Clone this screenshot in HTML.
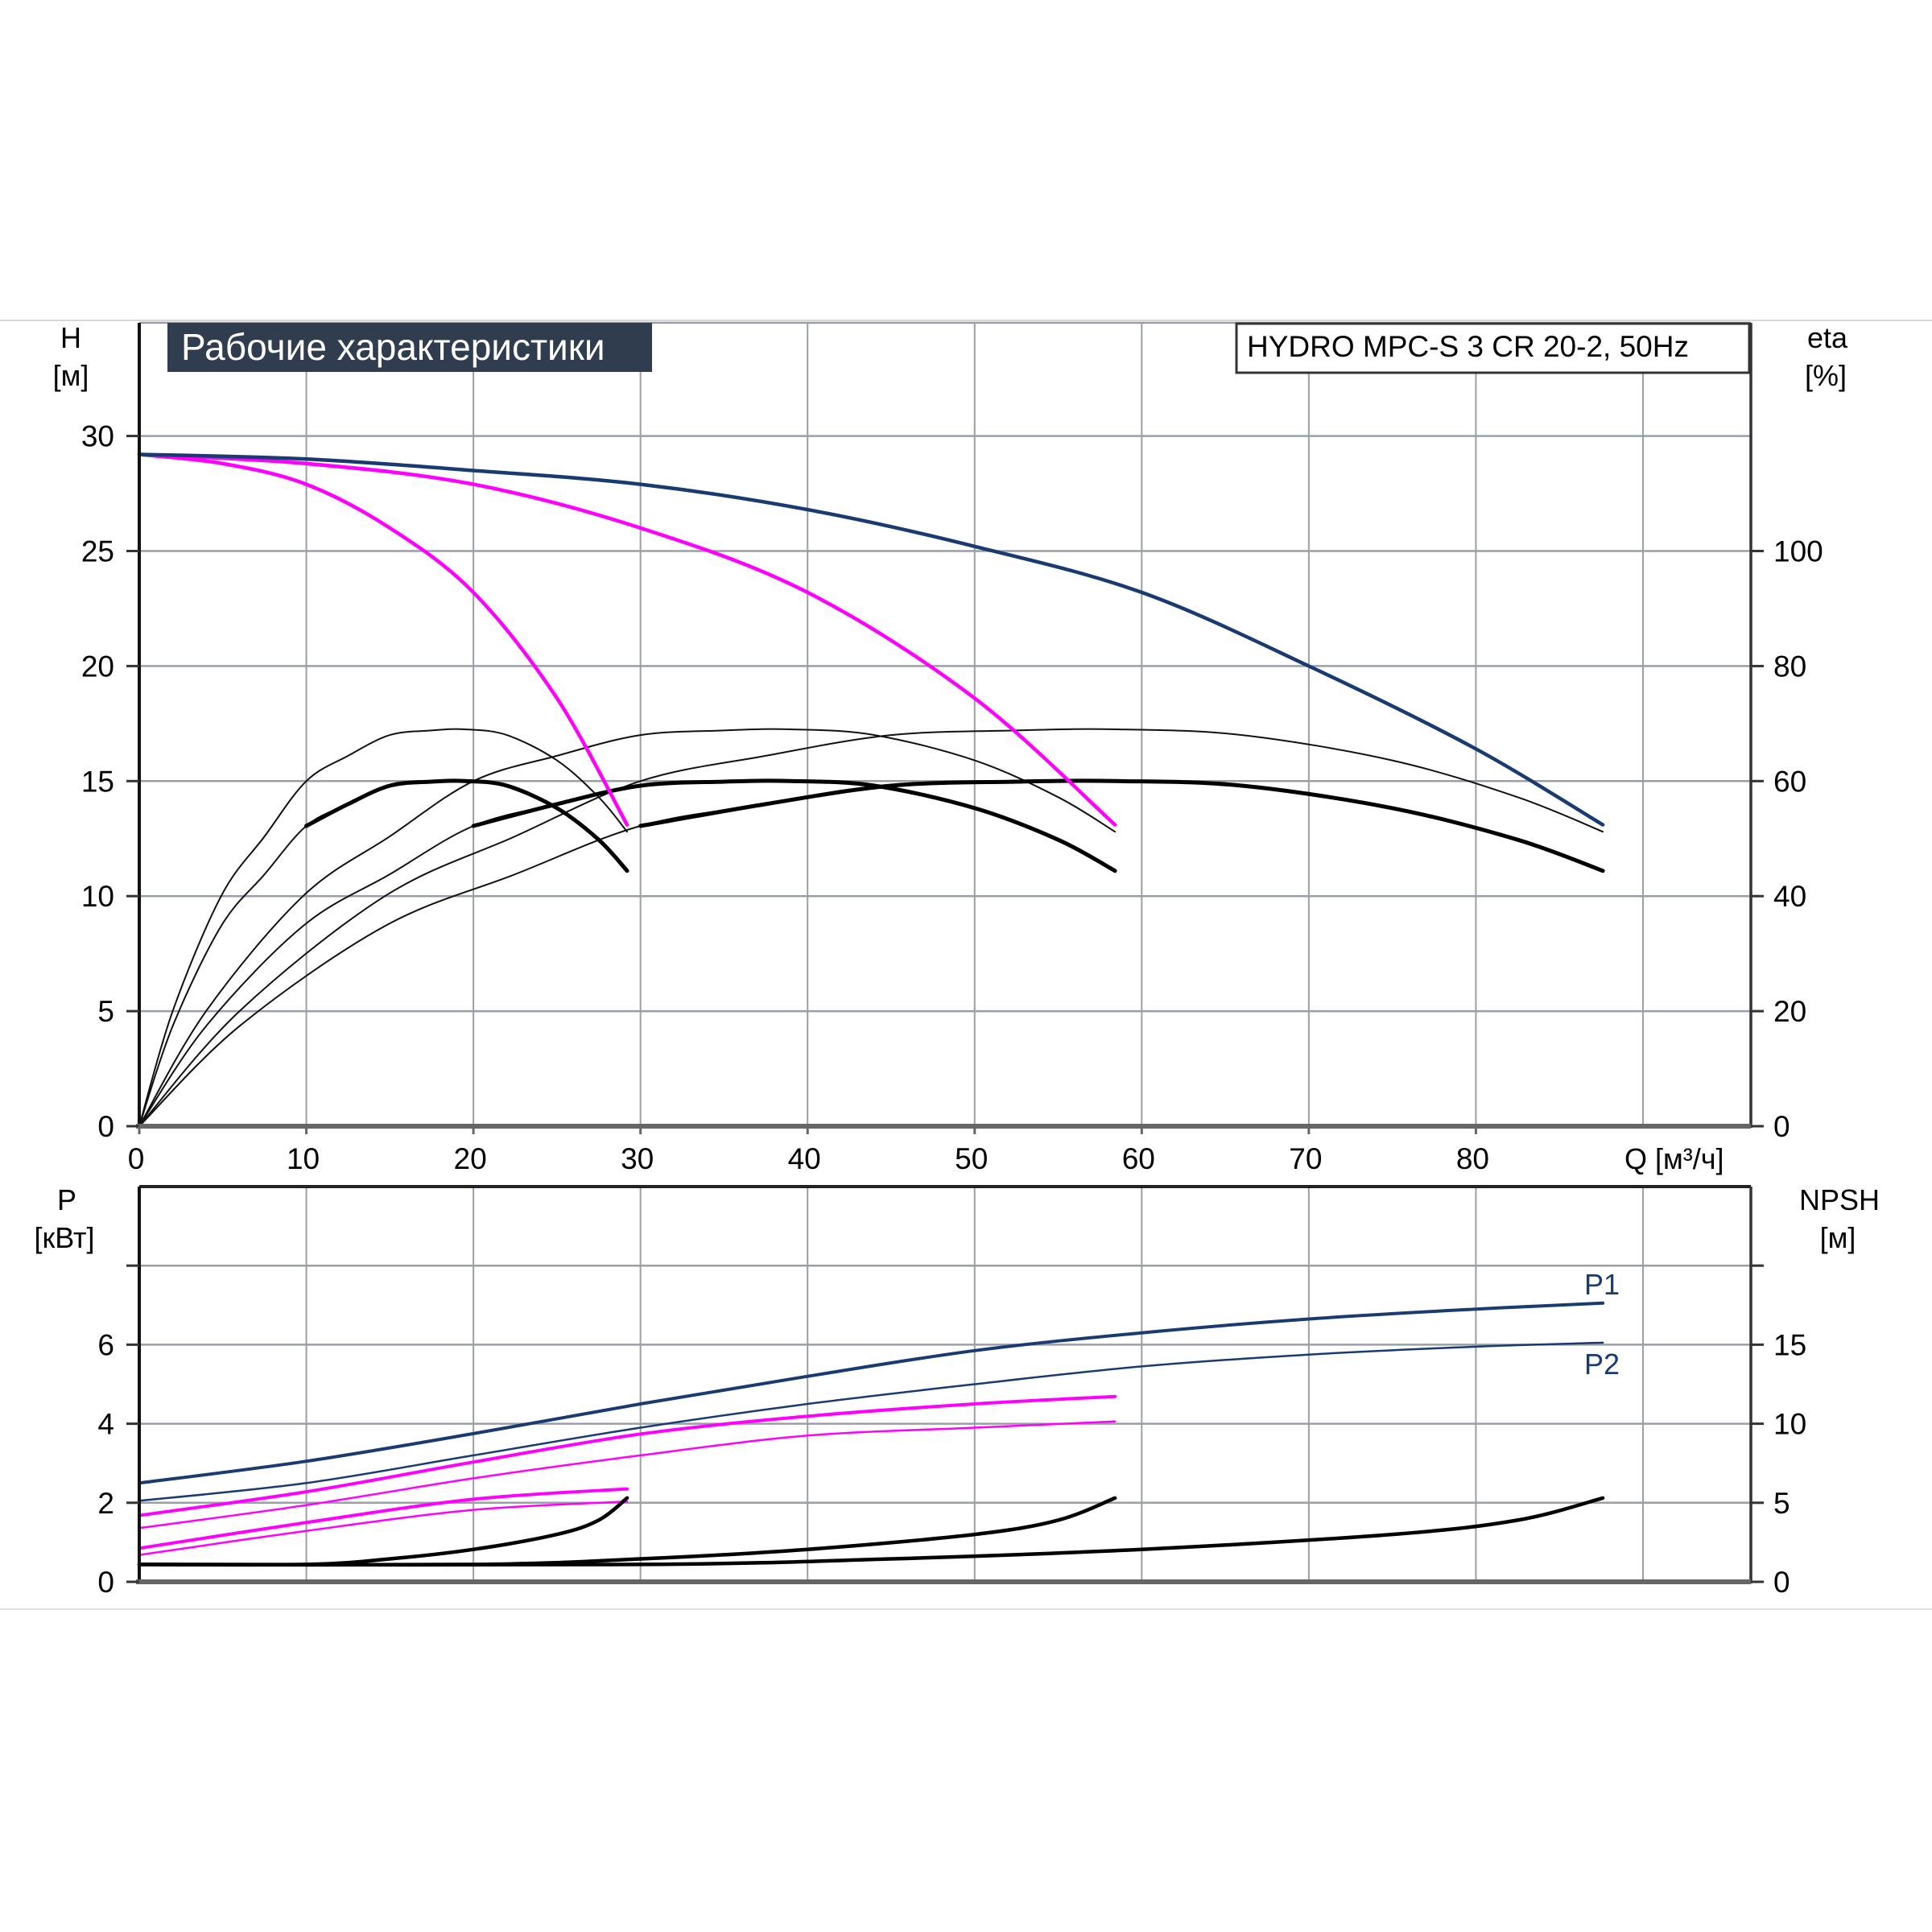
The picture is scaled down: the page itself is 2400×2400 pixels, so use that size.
<!DOCTYPE html>
<html><head><meta charset="utf-8"><style>
html,body{margin:0;padding:0;background:#fff}
svg{display:block}
text{font-family:"Liberation Sans",sans-serif;fill:#000}
</style></head><body>
<svg id="chart" width="2400" height="2400" viewBox="0 0 2400 2400" xmlns="http://www.w3.org/2000/svg">
<line x1="0" y1="398" x2="2400" y2="398" stroke="#d8d8d8" stroke-width="2"/>
<line x1="0" y1="1999" x2="2400" y2="1999" stroke="#e0e0e0" stroke-width="2"/>
<g id="grid"></g>
<g id="curves"></g>
<g id="axes"></g>
<rect x="208" y="401" width="602" height="61" fill="#2f3d4f"/>
<text x="225" y="447" font-size="46" style="fill:#fff;font-family:'Liberation Sans Narrow','Liberation Sans','DejaVu Sans Condensed',sans-serif">Рабочие характеристики</text>
<rect x="1536" y="402" width="637" height="61" fill="#fff" stroke="#333" stroke-width="3"/>
<text x="1549" y="443" font-size="37">HYDRO MPC-S 3 CR 20-2, 50Hz</text>
<text x="88" y="432" font-size="36" text-anchor="middle">H</text>
<text x="88" y="479" font-size="36" text-anchor="middle">[м]</text>
<text x="2270" y="432" font-size="36" text-anchor="middle">eta</text>
<text x="2268" y="479" font-size="36" text-anchor="middle">[%]</text>
<text x="83" y="1503" font-size="36" text-anchor="middle">P</text>
<text x="80" y="1550" font-size="36" text-anchor="middle">[кВт]</text>
<text x="2285" y="1503" font-size="36" text-anchor="middle">NPSH</text>
<text x="2283" y="1550" font-size="36" text-anchor="middle">[м]</text>
<text x="2018" y="1452" font-size="36">Q [м³/ч]</text>
<text x="1968" y="1608" font-size="36" style="fill:#1a3a72">P1</text>
<text x="1968" y="1707" font-size="36" style="fill:#1a3a72">P2</text>
</svg>
<script>
// ---- data ----
const qTicks = [0,10,20,30,40,50,60,70,80];
const hTicks = [0,5,10,15,20,25,30];
const etaTicks = [0,20,40,60,80,100];
const pTicks = [0,2,4,6];
const npshTicks = [0,5,10,15];

const qH3 = [0,10,20,30,40,50,60,70,80,87.6];
const h3  = [29.2,29.0,28.5,27.9,26.8,25.2,23.2,20.0,16.4,13.1];
const qH2 = [0,10,20,30,40,50,58.4];
const h2  = [29.2,28.8,27.9,26.0,23.2,18.6,13.1];
const qH1 = [0,5,10,15,20,25,29.2];
const h1  = [29.2,28.8,27.9,26.0,23.2,18.6,13.1];

const qE1 = [0,2,4.9,7.5,10,12.5,15,17.5,19.5,22,25,27.5,29.2];
const etaThin1  = [0,20,40,50.4,60,64.4,68,68.8,69,68,63.6,57.2,51.2];
const etaThick1 = [0,17.4,34.8,43.8,52.2,56,59.2,59.9,60,59.2,55.3,49.8,44.4];
const qE2 = [0,4,9.8,15,20,25,30,35,39,44,50,55,58.4];
const etaThin2  = [0,20,40,50.4,60,64.4,68,68.8,69,68,63.6,57.2,51.2];
const etaThick2 = [0,17.4,34.8,43.8,52.2,56,59.2,59.9,60,59.2,55.3,49.8,44.4];
const qE3 = [0,6,14.7,22.5,30,37.5,45,52.5,58.5,66,75,82.5,87.6];
const etaThin3  = [0,20,40,50.4,60,64.4,68,68.8,69,68,63.6,57.2,51.2];
const etaThick3 = [0,17.4,34.8,43.8,52.2,56,59.2,59.9,60,59.2,55.3,49.8,44.4];

const qP3 = [0,10,20,30,40,50,60,70,80,87.6];
const p1Three = [2.5,3.05,3.75,4.5,5.2,5.85,6.3,6.65,6.9,7.05];
const p2Three = [2.05,2.5,3.2,3.9,4.5,5.0,5.45,5.75,5.95,6.05];
const qP2 = [0,10,20,30,40,50,58.4];
const p1Two = [1.68,2.28,3.03,3.74,4.19,4.5,4.69];
const p2Two = [1.36,1.94,2.62,3.2,3.7,3.9,4.06];
const qP1 = [0,10,20,29.2];
const p1One = [0.85,1.5,2.09,2.35];
const p2One = [0.68,1.29,1.82,2.03];

const qN1 = [0,10,15,20,25,27.5,29.2];
const npsh1 = [1.1,1.1,1.45,2.05,3.0,3.9,5.3];
const qN2 = [0,20,30,40,50,55,58.4];
const npsh2 = [1.1,1.1,1.45,2.05,3.0,3.9,5.3];
const qN3 = [0,30,45,60,75,82.5,87.6];
const npsh3 = [1.1,1.1,1.45,2.05,3.0,3.9,5.3];

// ---- scales ----
const X0=173, X1=2175, TOP1=401, Y0H=1399, TOP2=1474, Y0P=1965;
const sx = q => X0 + q*20.755;
const syH = h => Y0H - h*28.58;
const syE = e => syH(e/4);
const syP = p => Y0P - p*49.1;
const syN = n => syP(n/2.5);
const NS='http://www.w3.org/2000/svg';
function mk(tag, attrs, parent){const e=document.createElementNS(NS,tag);for(const k in attrs)e.setAttribute(k,attrs[k]);parent.appendChild(e);return e;}
function pathD(pts){
  let d='M'+pts[0][0].toFixed(1)+','+pts[0][1].toFixed(1);
  for(let i=0;i<pts.length-1;i++){
    const p0=pts[i-1]||pts[i],p1=pts[i],p2=pts[i+1],p3=pts[i+2]||p2;
    const c1=[p1[0]+(p2[0]-p0[0])/6,p1[1]+(p2[1]-p0[1])/6];
    const c2=[p2[0]-(p3[0]-p1[0])/6,p2[1]-(p3[1]-p1[1])/6];
    d+=' C'+c1.map(v=>v.toFixed(1))+' '+c2.map(v=>v.toFixed(1))+' '+p2[0].toFixed(1)+','+p2[1].toFixed(1);
  }
  return d;
}
const grid=document.getElementById('grid'), curves=document.getElementById('curves'), axes=document.getElementById('axes');

// grid
for(let q=10;q<=90;q+=10){
  let l=mk('line',{x1:sx(q),y1:TOP1,x2:sx(q),y2:Y0H,stroke:'#9a9ea6','stroke-width':2},grid);
  
  
  l=mk('line',{x1:sx(q),y1:TOP2,x2:sx(q),y2:Y0P,stroke:'#9a9ea6','stroke-width':2},grid);
  
  
}
for(const h of hTicks.slice(1)){
  const l=mk('line',{x1:X0,y1:syH(h),x2:X1,y2:syH(h),stroke:'#9a9ea6','stroke-width':2.5},grid);
  
  
}
{const l=mk('line',{x1:X0,y1:TOP1,x2:X1,y2:TOP1,stroke:'#9a9ea6','stroke-width':2.5},grid);

}
for(const p of [2,4,6,8]){
  const l=mk('line',{x1:X0,y1:syP(p),x2:X1,y2:syP(p),stroke:'#9a9ea6','stroke-width':2.5},grid);
  
  
}

// curves
function curve(qs,vs,sy,color,w,name,qmin){
  const pts=[];
  for(let i=0;i<qs.length;i++) pts.push([sx(qs[i]),sy(vs[i])]);
  const p=mk('path',{d:pathD(pts),fill:'none',stroke:color,'stroke-width':w,'stroke-linecap':'round'},curves);
  
  
  return p;
}
function thickPart(qs,vs,sy,qStart,name){
  const qq=[],vv=[];
  for(let i=0;i<qs.length;i++) if(qs[i]>=qStart){qq.push(qs[i]);vv.push(vs[i]);}
  curve(qq,vv,sy,'#000',5,name);
}
// efficiency
curve(qE1,etaThin1,syE,'#111',2,'eta-thin-1-pump');
curve(qE2,etaThin2,syE,'#111',2,'eta-thin-2-pumps');
curve(qE3,etaThin3,syE,'#111',2,'eta-thin-3-pumps');
curve(qE1,etaThick1,syE,'#111',2,'eta-1-pump-extension');
curve(qE2,etaThick2,syE,'#111',2,'eta-2-pumps-extension');
curve(qE3,etaThick3,syE,'#111',2,'eta-3-pumps-extension');
thickPart(qE1,etaThick1,syE,10,'eta-1-pump');
thickPart(qE2,etaThick2,syE,20,'eta-2-pumps');
thickPart(qE3,etaThick3,syE,30,'eta-3-pumps');
// head
curve(qH1,h1,syH,'#ff00ff',4.5,'head-1-pump');
curve(qH2,h2,syH,'#ff00ff',4.5,'head-2-pumps');
curve(qH3,h3,syH,'#1a3a72',4.5,'head-3-pumps');
// power
curve(qP1,p1One,syP,'#ff00ff',4,'p1-1-pump');
curve(qP1,p2One,syP,'#ff00ff',2.5,'p2-1-pump');
curve(qP2,p1Two,syP,'#ff00ff',4,'p1-2-pumps');
curve(qP2,p2Two,syP,'#ff00ff',2.5,'p2-2-pumps');
curve(qP3,p1Three,syP,'#1a3a72',4,'p1-3-pumps');
curve(qP3,p2Three,syP,'#1a3a72',2.5,'p2-3-pumps');
// npsh
curve(qN1,npsh1,syN,'#000',4.5,'npsh-1-pump');
curve(qN2,npsh2,syN,'#000',4.5,'npsh-2-pumps');
curve(qN3,npsh3,syN,'#000',4.5,'npsh-3-pumps');

// axes
function ln(x1,y1,x2,y2,c,w,name){const l=mk('line',{x1,y1,x2,y2,stroke:c,'stroke-width':w},axes);}
ln(X0,TOP1,X0,Y0H+2,'#111',4,'h-axis-line');
ln(X1,TOP1,X1,Y0H+2,'#333',3.5,'eta-axis-line');
ln(X0-4,Y0H,X1,Y0H,'#666',6,'q-axis-line');
ln(X0,TOP2,X1,TOP2,'#222',4,'bottom-plot-top');
ln(X0,TOP2,X0,Y0P+2,'#111',4,'p-axis-line');
ln(X1,TOP2,X1,Y0P+2,'#333',3.5,'npsh-axis-line');
ln(X0-4,Y0P,X1,Y0P,'#666',6,'bottom-q-axis-line');
function txt(x,y,s,anchor,name){const t=mk('text',{x,y,'font-size':37,'text-anchor':anchor},axes);t.textContent=s;}
for(const h of hTicks){ln(X0-16,syH(h),X0,syH(h),'#333',3,'h-tick');txt(142,syH(h)+13,String(h),'end','h-tick-label');}
for(const e of etaTicks){ln(X1,syE(e),X1+16,syE(e),'#333',3,'eta-tick');txt(2203,syE(e)+13,String(e),'start','eta-tick-label');}
for(const q of qTicks){ln(sx(q),Y0H,sx(q),Y0H+10,'#666',3,'q-tick');txt(sx(q)-4,1452,String(q),'middle','q-tick-label');}
for(const p of [0,2,4,6,8]){ln(X0-16,syP(p),X0,syP(p),'#333',3,'p-tick');}
for(const p of pTicks){txt(142,syP(p)+13,String(p),'end','p-tick-label');}
for(const n of npshTicks){ln(X1,syN(n),X1+16,syN(n),'#333',3,'npsh-tick');txt(2203,syN(n)+13,String(n),'start','npsh-tick-label');}
ln(X1,syP(8),X1+16,syP(8),'#333',3,'npsh-tick');
</script>
</body></html>
